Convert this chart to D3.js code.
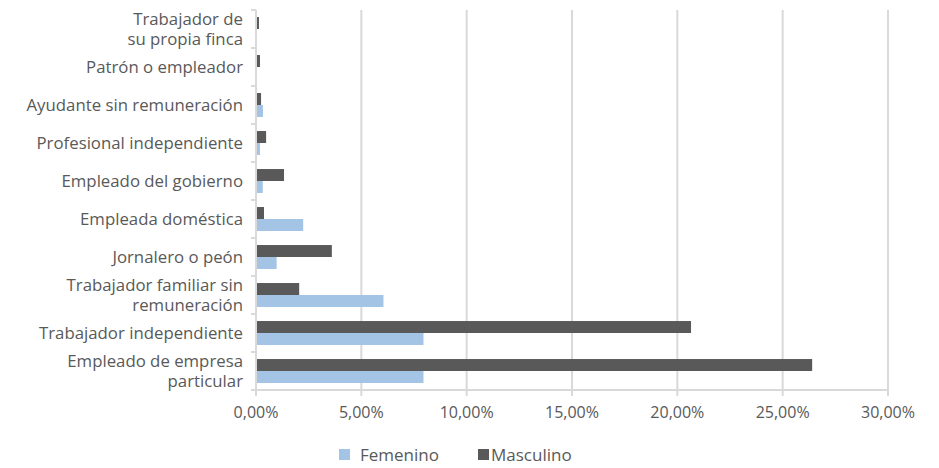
<!DOCTYPE html>
<html>
<head>
<meta charset="utf-8">
<script src="https://cdn.jsdelivr.net/npm/d3@7"></script>
<style>
  body { margin: 0; background: #fff; }
  text { font-family: "Open Sans", sans-serif; fill: #595959; }
</style>
</head>
<body>
<div id="chart"></div>
<script>
// categorias (de arriba a abajo)
const categorias = [
    "Trabajador de|su propia finca",
    "Patrón o empleador",
    "Ayudante sin remuneración",
    "Profesional independiente",
    "Empleado del gobierno",
    "Empleada doméstica",
    "Jornalero o peón",
    "Trabajador familiar sin|remuneración",
    "Trabajador independiente",
    "Empleado de empresa|particular"
];
const femenino = [0, 0, 0.33, 0.19, 0.32, 2.24, 0.98, 6.05, 7.95, 7.95];
const masculino = [0.14, 0.19, 0.24, 0.48, 1.33, 0.38, 3.6, 2.05, 20.65, 26.4];
const ticks = [0, 5, 10, 15, 20, 25, 30];
const series = ["Masculino", "Femenino"];
const colores = {Femenino: "#a3c4e4", Masculino: "#595959"};

const W = 939, H = 468;
const margin = {top: 10, right: 51, bottom: 78, left: 256};
const width = W - margin.left - margin.right;
const height = H - margin.top - margin.bottom;

const svg = d3.select("#chart").append("svg")
    .attr("width", W).attr("height", H);
const g = svg.append("g")
    .attr("transform", "translate(" + margin.left + "," + margin.top + ")");

const x = d3.scaleLinear().domain([0, 30]).range([0, width]);
const y = d3.scaleBand().domain(categorias).range([0, height]).paddingInner(0.37).paddingOuter(0.185);
const ySub = d3.scaleBand().domain(series).range([0, y.bandwidth()]);

// lineas de cuadricula
g.selectAll(".grid").data(ticks.slice(1)).enter().append("line")
    .attr("x1", d => x(d)).attr("x2", d => x(d))
    .attr("y1", 0).attr("y2", height + 6)
    .attr("stroke", "#d9d9d9").attr("stroke-width", 2);

// eje x
g.append("line").attr("x1", 0).attr("x2", width).attr("y1", height).attr("y2", height)
    .attr("stroke", "#d9d9d9").attr("stroke-width", 2);
g.selectAll(".xtick").data(ticks).enter().append("text")
    .attr("x", d => x(d)).attr("y", height + 28)
    .attr("text-anchor", "middle").attr("font-size", 16)
    .text(d => d3.format(".2f")(d).replace(".", ",") + "%");

// barras
const filas = categorias.map((c, i) => ({cat: c, Femenino: femenino[i], Masculino: masculino[i]}));
const grupo = g.selectAll(".grupo").data(filas).enter().append("g")
    .attr("transform", d => "translate(0," + y(d.cat) + ")");
grupo.selectAll("rect").data(d => series.map(s => ({s: s, v: d[s]}))).enter().append("rect")
    .attr("x", 0).attr("y", d => ySub(d.s))
    .attr("width", d => x(d.v)).attr("height", ySub.bandwidth())
    .attr("fill", d => colores[d.s]);

// eje y
g.append("line").attr("x1", 0).attr("x2", 0).attr("y1", 0).attr("y2", height + 6)
    .attr("stroke", "#d9d9d9").attr("stroke-width", 2);
const step = height / categorias.length;
g.selectAll(".ytick").data(d3.range(categorias.length + 1)).enter().append("line")
    .attr("x1", -5).attr("x2", 0).attr("y1", d => d * step).attr("y2", d => d * step)
    .attr("stroke", "#d9d9d9").attr("stroke-width", 2);

const etiquetas = g.selectAll(".ylab").data(categorias).enter().append("text")
    .attr("text-anchor", "end").attr("font-size", 16.8)
    .attr("transform", d => "translate(-13," + (y(d) + y.bandwidth() / 2) + ")");
etiquetas.each(function(d) {
    const lineas = d.split("|");
    const t = d3.select(this);
    lineas.forEach((l, i) => {
        t.append("tspan").attr("x", 0)
            .attr("y", (i - (lineas.length - 1) / 2) * 20)
            .attr("dy", "0.35em").text(l);
    });
});

// leyenda
const leyenda = svg.append("g").attr("transform", "translate(339,455)");
const items = [{s: "Femenino", x: 0, tx: 21}, {s: "Masculino", x: 139, tx: 13}];
leyenda.selectAll("rect").data(items).enter().append("rect")
    .attr("x", d => d.x).attr("y", -6).attr("width", 11).attr("height", 11)
    .attr("fill", d => colores[d.s]);
leyenda.selectAll("text").data(items).enter().append("text")
    .attr("x", d => d.x + d.tx).attr("y", 0).attr("dy", "0.35em")
    .attr("font-size", 17).text(d => d.s);
</script>
</body>
</html>
